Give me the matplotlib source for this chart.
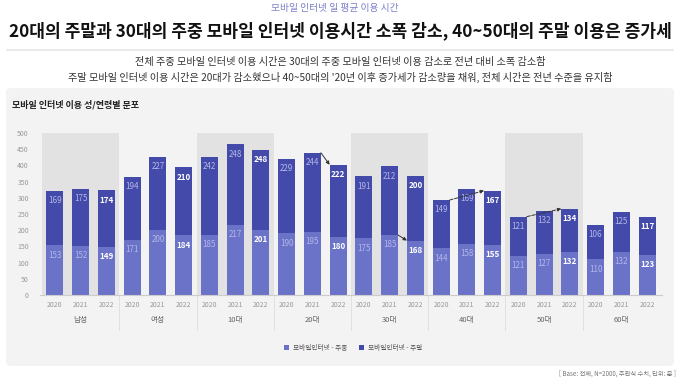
import numpy as np
import matplotlib.pyplot as plt
from matplotlib.patches import FancyBboxPatch
import matplotlib.transforms as mtransforms

plt.rcParams['font.family'] = ['Noto Sans CJK KR', 'DejaVu Sans']

groups = ['남성', '여성', '10대', '20대', '30대', '40대', '50대', '60대']
years = ['2020', '2021', '2022']
weekday = [153, 152, 149, 171, 200, 184, 185, 217, 201, 190, 195, 180,
           175, 185, 168, 144, 158, 155, 121, 127, 132, 110, 132, 123]
weekend = [169, 175, 174, 194, 227, 210, 242, 248, 248, 229, 244, 222,
           191, 212, 200, 149, 169, 167, 121, 132, 134, 106, 125, 117]

c_day = '#6b73c9'
c_end = '#434aa9'
W, H = 680, 379

fig = plt.figure(figsize=(6.8, 3.79), dpi=100)
fig.patch.set_facecolor('white')

# panel background
panel = FancyBboxPatch((6 / W, (H - 366) / H), 668 / W, 278 / H,
                       boxstyle='round,pad=0,rounding_size=0.01',
                       transform=fig.transFigure, facecolor='#f3f3f3',
                       edgecolor='none', zorder=-5)
fig.patches.append(panel)
fig.add_artist(plt.Line2D([0.01, 0.99], [1 - 50 / H, 1 - 50 / H],
                          color='#e6e6e6', lw=1.2, transform=fig.transFigure))

fig.text(0.493, 1 - 8 / H, '모바일 인터넷 일 평균 이용 시간', ha='center', va='center',
         fontsize=7, color='#7b80c8')
fig.text(0.5, 1 - 31 / H,
         '20대의 주말과 30대의 주중 모바일 인터넷 이용시간 소폭 감소, 40~50대의 주말 이용은 증가세',
         ha='center', va='center', fontsize=12.3, fontweight='bold', color='#111111')
fig.text(0.5, 1 - 62 / H,
         '전체 주중 모바일 인터넷 이용 시간은 30대의 주중 모바일 인터넷 이용 감소로 전년 대비 소폭 감소함',
         ha='center', va='center', fontsize=7.3, color='#333333')
fig.text(0.5, 1 - 77 / H,
         '주말 모바일 인터넷 이용 시간은 20대가 감소했으나 40~50대의 \'20년 이후 증가세가 감소량을 채워, 전체 시간은 전년 수준을 유지함',
         ha='center', va='center', fontsize=7.3, color='#333333')
fig.text(12 / W, 1 - 105 / H, '모바일 인터넷 이용 성/연령별 분포', ha='left', va='center',
         fontsize=6.5, fontweight='bold', color='#222222')
fig.text(676 / W, 1 - 374 / H, '[ Base: 전체, N=2000, 주관식 수치, 단위: 분 ]',
         ha='right', va='center', fontsize=4.5, color='#777777')

ax = fig.add_axes([40 / W, (H - 295) / H, 622 / W, 162 / H])
ax.set_facecolor('none')

x = np.arange(len(weekday))
bw = 0.66
ax.bar(x, weekday, bw, color=c_day, zorder=2, label='모바일인터넷 - 주중')
ax.bar(x, weekend, bw, bottom=weekday, color=c_end, zorder=2, label='모바일인터넷 - 주말')

for g in range(0, len(groups), 2):
    ax.axvspan(3 * g - 0.5, 3 * g + 2.5, color='#e2e2e2', zorder=0, lw=0)

for i in x:
    last = i % 3 == 2
    col = 'white' if last else '#b3b6ea'
    fw = 'bold' if last else 'normal'
    ax.annotate(str(weekday[i]), (i, weekday[i]), xytext=(0, -7), textcoords='offset points',
                ha='center', va='center', fontsize=5.8, color=col, fontweight=fw, zorder=3)
    tot = weekday[i] + weekend[i]
    ax.annotate(str(weekend[i]), (i, tot), xytext=(0, -7), textcoords='offset points',
                ha='center', va='center', fontsize=5.8, color=col, fontweight=fw, zorder=3)

# trend arrows
tops = np.array(weekday) + np.array(weekend)
arrows = [(10, 11, tops, '-'), (13, 14, weekday, '-'), (15, 17, tops, '--'), (18, 20, tops, '--')]
for a, b, vals, ls in arrows:
    ax.annotate('', xy=(b - bw / 2, vals[b]), xytext=(a + bw / 2, vals[a]),
                arrowprops=dict(arrowstyle='-|>', color='#333333', lw=0.7, ls=ls,
                                mutation_scale=5, shrinkA=0, shrinkB=0), zorder=4)

ax.set_xlim(-0.58, 23.58)
ax.set_ylim(0, 500)
ax.set_yticks(range(0, 501, 50))
ax.set_xticks(x)
ax.set_xticklabels(years * len(groups))
ax.tick_params(axis='both', length=0, labelsize=5, labelcolor='#999999')
ax.tick_params(axis='y', pad=8)
ax.tick_params(axis='x', pad=4)
for s in ['top', 'right', 'left']:
    ax.spines[s].set_visible(False)
ax.spines['bottom'].set_color('#cccccc')
ax.spines['bottom'].set_linewidth(0.8)

trans = mtransforms.blended_transform_factory(ax.transData, fig.transFigure)
for g, name in enumerate(groups):
    fig.text(3 * g + 1, 1 - 320 / H, name, transform=trans, ha='center', va='center',
             fontsize=5.5, color='#666666')
    if g > 0:
        ax.add_artist(plt.Line2D([3 * g - 0.5, 3 * g - 0.5], [1 - 296 / H, 1 - 330 / H],
                                 color='#e0e0e0', lw=0.7, transform=trans, clip_on=False))

ax.legend(loc='center', bbox_to_anchor=(353 / W, 1 - 348 / H), bbox_transform=fig.transFigure,
          ncol=2, frameon=False, fontsize=4.8, labelcolor='#555555', handlelength=0.7,
          handleheight=0.7, columnspacing=1.8, handletextpad=0.6)

plt.savefig('out.png', dpi=100)
